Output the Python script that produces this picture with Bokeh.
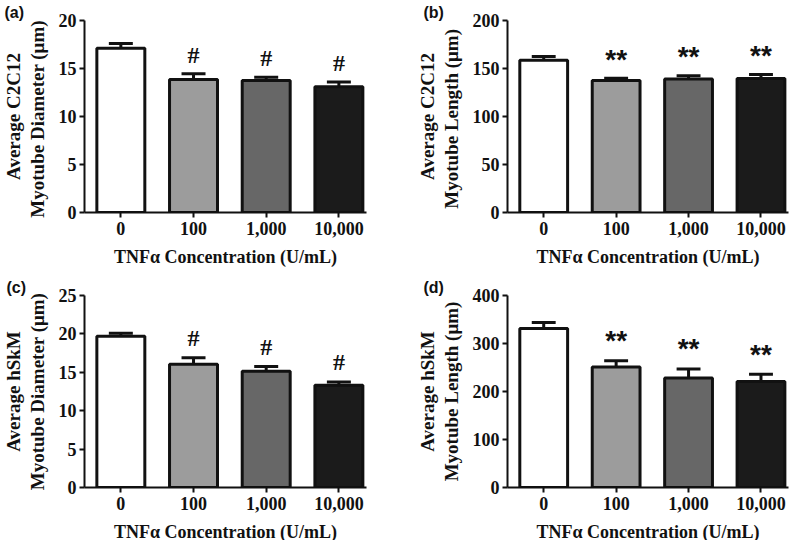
from bokeh.plotting import figure
from bokeh.layouts import column, row
from bokeh.models import FixedTicker, Range1d
from bokeh.core.properties import value
from bokeh.embed import file_html
from bokeh.resources import INLINE

categories = ["0", "100", "1,000", "10,000"]
x_pos = [0, 1, 2, 3]
fills = ["#ffffff", "#9c9c9c", "#676767", "#1b1b1b"]

# (a) C2C12 diameter
a_mean = [17.1, 13.85, 13.75, 13.1]
a_err = [17.6, 14.45, 14.1, 13.6]
a_sig = ["", "#", "#", "#"]
a_ticks = [0, 5, 10, 15, 20]

# (b) C2C12 length
b_mean = [158.5, 137.5, 139.0, 139.5]
b_err = [162.5, 139.8, 142.4, 143.8]
b_sig = ["", "**", "**", "**"]
b_ticks = [0, 50, 100, 150, 200]

# (c) hSkM diameter
c_mean = [19.7, 16.05, 15.15, 13.3]
c_err = [20.1, 16.9, 15.75, 13.75]
c_sig = ["", "#", "#", "#"]
c_ticks = [0, 5, 10, 15, 20, 25]

# (d) hSkM length
d_mean = [331, 251, 228, 221]
d_err = [344, 264, 247, 236]
d_sig = ["", "**", "**", "**"]
d_ticks = [0, 100, 200, 300, 400]

SERIF = "Liberation Serif"
SANS = "Liberation Sans"
X0, X1 = -0.5, 3.38


def panel(tag, tag_x, mean, err, sig, ticks, ylabel, left, right, top, bottom,
          height, sig_font, sig_size, sig_off):
    fw = 400 - left - right
    fh = 192
    p = figure(width=400, height=height, output_backend="svg",
               toolbar_location=None, x_range=Range1d(X0, X1),
               y_range=Range1d(0, ticks[-1]),
               min_border_left=left, min_border_right=right,
               min_border_top=top, min_border_bottom=bottom,
               frame_height=fh, frame_width=fw)
    p.outline_line_color = None
    p.xgrid.grid_line_color = None
    p.ygrid.grid_line_color = None
    p.background_fill_color = "white"
    p.border_fill_color = "white"

    # panel tag as title, pushed left over the axis area
    p.title.text = tag
    p.title.align = "left"
    p.title.offset = tag_x - left
    p.title.standoff = 0
    p.title.text_font = SANS
    p.title.text_font_style = "bold"
    p.title.text_font_size = "16px"
    p.title.text_color = "#111111"

    bw = 0.66
    cw = 0.165
    p.segment(x0=x_pos, y0=mean, x1=x_pos, y1=err, line_color="#111111",
              line_width=3)
    p.segment(x0=[x - cw for x in x_pos], y0=err,
              x1=[x + cw for x in x_pos], y1=err,
              line_color="#111111", line_width=3)
    p.vbar(x=x_pos, top=mean, bottom=0, width=bw, fill_color=fills,
           line_color="#111111", line_width=3)

    p.text(x=x_pos, y=err, text=sig, text_align="center",
           text_baseline="alphabetic", y_offset=sig_off,
           text_font=value(sig_font), text_font_style="bold",
           text_font_size=sig_size, text_color="#111111")

    for ax in (p.xaxis[0], p.yaxis[0]):
        ax.axis_line_width = 2
        ax.axis_line_color = "#111111"
        ax.major_tick_line_width = 2
        ax.major_tick_line_color = "#111111"
        ax.major_tick_out = 5
        ax.major_tick_in = 0
        ax.minor_tick_line_color = None
        ax.major_label_text_font = SERIF
        ax.major_label_text_font_style = "bold"
        ax.major_label_text_font_size = "18px"
        ax.major_label_text_color = "#111111"
        ax.axis_label_text_font = SERIF
        ax.axis_label_text_font_style = "bold"
        ax.axis_label_text_color = "#111111"

    p.yaxis.ticker = FixedTicker(ticks=ticks)
    p.yaxis.major_label_standoff = 3
    p.yaxis.axis_label = ylabel
    p.yaxis.axis_label_text_font_size = "19px"
    p.yaxis.axis_label_text_line_height = 1.1
    p.yaxis.axis_label_standoff = 8

    p.xaxis.ticker = FixedTicker(ticks=x_pos)
    p.xaxis.major_label_overrides = {i: c for i, c in zip(x_pos, categories)}
    p.xaxis.major_label_standoff = 4
    p.xaxis.axis_label = "TNF\u03b1 Concentration (U/mL)"
    p.xaxis.axis_label_text_font_size = "18px"
    p.xaxis.axis_label_standoff = 9
    return p


pa = panel("(a)", 3, a_mean, a_err, a_sig, a_ticks,
           "Average C2C12\nMyotube Diameter  (\u03bcm)",
           83, 35, 20, 58, 270, SERIF, "24px", -19)
pb = panel("(b)", 22, b_mean, b_err, b_sig, b_ticks,
           "Average C2C12\nMyotube Length  (\u03bcm)",
           106, 13, 20, 58, 270, SANS, "28px", -19)
pc = panel("(c)", 5, c_mean, c_err, c_sig, c_ticks,
           "Average hSkM\nMyotube Diameter (\u03bcm)",
           83, 35, 25, 53, 270, SERIF, "24px", -20)
pd_ = panel("(d)", 22, d_mean, d_err, d_sig, d_ticks,
            "Average hSkM\nMyotube Length (\u03bcm)",
            106, 13, 25, 53, 270, SANS, "28px", -20)

layout = column(row(pa, pb), row(pc, pd_))
open("out.html", "w").write(file_html(layout, INLINE))
